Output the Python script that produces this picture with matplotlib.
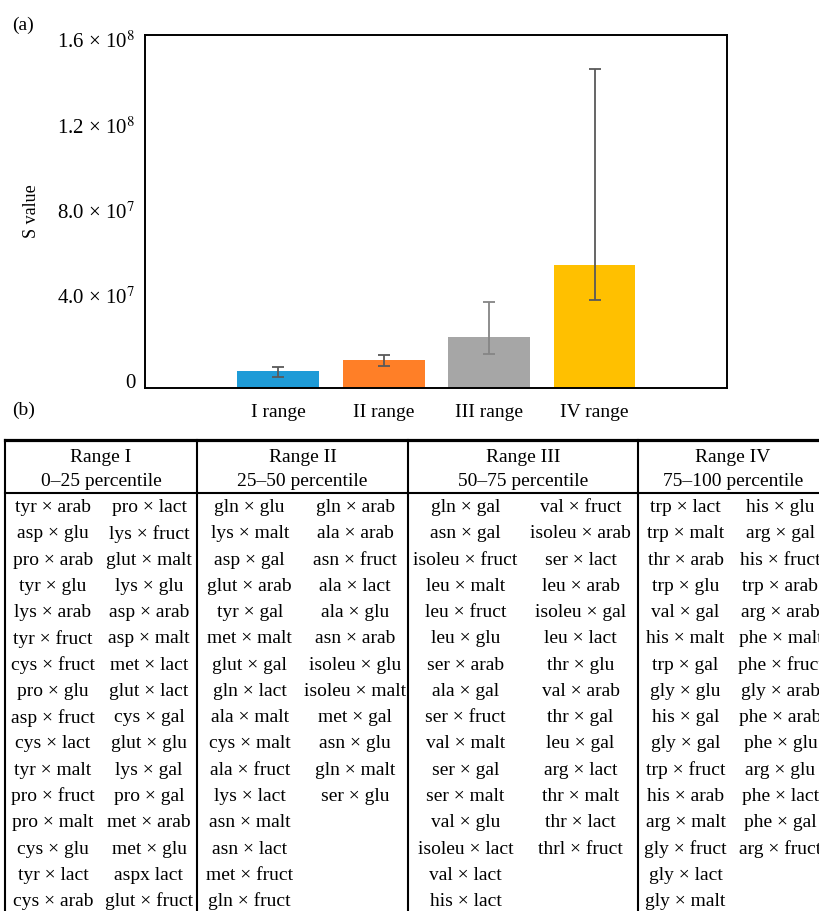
import numpy as np
import matplotlib
matplotlib.use('Agg')
import matplotlib.pyplot as plt
import matplotlib.transforms as mtransforms

plt.rcParams['font.family'] = ['Liberation Serif', 'DejaVu Serif']
plt.rcParams['mathtext.fontset'] = 'stix'

# Panel (a) data
ranges = ['I range', 'II range', 'III range', 'IV range']
s_value = [8.1e6, 1.31e7, 2.39e7, 5.79e7]
err_high = [1.01e7, 1.55e7, 4.03e7, 1.498e8]   # upper end of error bar
err_low = [5.3e6, 1.05e7, 1.60e7, 4.14e7]      # lower end of error bar
bar_colors = ['#1E9BD7', '#FF7F27', '#A6A6A6', '#FFC000']
err_colors = ['#595959', '#595959', '#858585', '#595959']
yticks = [0, 4e7, 8e7, 1.2e8, 1.6e8]
ytick_labels = ['0', '4.0 × 10$^{7}$', '8.0 × 10$^{7}$', '1.2 × 10$^{8}$', '1.6 × 10$^{8}$']

# Panel (b) table data
headers = [('Range I', '0–25 percentile'), ('Range II', '25–50 percentile'),
           ('Range III', '50–75 percentile'), ('Range IV', '75–100 percentile')]
range1_a = ['tyr × arab', 'asp × glu', 'pro × arab', 'tyr × glu', 'lys × arab', 'tyr × fruct',
            'cys × fruct', 'pro × glu', 'asp × fruct', 'cys × lact', 'tyr × malt', 'pro × fruct',
            'pro × malt', 'cys × glu', 'tyr × lact', 'cys × arab']
range1_b = ['pro × lact', 'lys × fruct', 'glut × malt', 'lys × glu', 'asp × arab', 'asp × malt',
            'met × lact', 'glut × lact', 'cys × gal', 'glut × glu', 'lys × gal', 'pro × gal',
            'met × arab', 'met × glu', 'aspx lact', 'glut × fruct']
range2_a = ['gln × glu', 'lys × malt', 'asp × gal', 'glut × arab', 'tyr × gal', 'met × malt',
            'glut × gal', 'gln × lact', 'ala × malt', 'cys × malt', 'ala × fruct', 'lys × lact',
            'asn × malt', 'asn × lact', 'met × fruct', 'gln × fruct']
range2_b = ['gln × arab', 'ala × arab', 'asn × fruct', 'ala × lact', 'ala × glu', 'asn × arab',
            'isoleu × glu', 'isoleu × malt', 'met × gal', 'asn × glu', 'gln × malt', 'ser × glu']
range3_a = ['gln × gal', 'asn × gal', 'isoleu × fruct', 'leu × malt', 'leu × fruct', 'leu × glu',
            'ser × arab', 'ala × gal', 'ser × fruct', 'val × malt', 'ser × gal', 'ser × malt',
            'val × glu', 'isoleu × lact', 'val × lact', 'his × lact']
range3_b = ['val × fruct', 'isoleu × arab', 'ser × lact', 'leu × arab', 'isoleu × gal', 'leu × lact',
            'thr × glu', 'val × arab', 'thr × gal', 'leu × gal', 'arg × lact', 'thr × malt',
            'thr × lact', 'thrl × fruct']
range4_a = ['trp × lact', 'trp × malt', 'thr × arab', 'trp × glu', 'val × gal', 'his × malt',
            'trp × gal', 'gly × glu', 'his × gal', 'gly × gal', 'trp × fruct', 'his × arab',
            'arg × malt', 'gly × fruct', 'gly × lact', 'gly × malt']
range4_b = ['his × glu', 'arg × gal', 'his × fruct', 'trp × arab', 'arg × arab', 'phe × malt',
            'phe × fruct', 'gly × arab', 'phe × arab', 'phe × glu', 'arg × glu', 'phe × lact',
            'phe × gal', 'arg × fruct']
columns = [(range1_a, range1_b), (range2_a, range2_b), (range3_a, range3_b), (range4_a, range4_b)]

W, H = 819, 911
fig = plt.figure(figsize=(W / 100, H / 100), dpi=100)

# ---- panel (a): bar chart ----
ax = fig.add_axes([145 / W, 1 - 388.3 / H, 582 / W, 353.3 / H])
x = np.arange(len(ranges))
ax.bar(x, s_value, width=0.777, color=bar_colors, zorder=2)
for i in range(len(ranges)):
    lo = s_value[i] - err_low[i]
    hi = err_high[i] - s_value[i]
    ax.errorbar(x[i], s_value[i], yerr=[[lo], [hi]], fmt='none', ecolor=err_colors[i],
                elinewidth=1.3, capsize=4, capthick=1.3, zorder=3)
ax.set_xlim(-1.261, 4.256)
ax.set_ylim(0, 1.656e8)
ax.set_xticks(x)
ax.set_xticklabels(ranges, fontsize=14)
ax.set_yticks(yticks)
ax.set_yticklabels(ytick_labels, fontsize=15)
ax.tick_params(axis='x', length=0, pad=11)
ax.tick_params(axis='y', length=0, pad=7)
offset = mtransforms.ScaledTranslation(0, 7 / 100, fig.dpi_scale_trans)
for lab in ax.get_yticklabels():
    lab.set_transform(lab.get_transform() + offset)
for sp in ax.spines.values():
    sp.set_linewidth(1.4)
    sp.set_color('black')
ax.set_ylabel('S value', fontsize=13)
ax.yaxis.set_label_coords(-0.180, 0.502)

# ---- overlay in pixel units for labels and table ----
ov = fig.add_axes([0, 0, 1, 1], zorder=-1)
ov.set_xlim(0, W)
ov.set_ylim(H, 0)
ov.axis('off')

ov.text(12, 25, '(a)', fontsize=14, va='center', ha='left')
ov.text(12, 410, '(b)', fontsize=14, va='center', ha='left')

# table is wider than the figure, so the last column runs off the right edge
col_edges = [5, 197, 408, 638, 828]
top_y, head_y = 440, 492.5
ov.plot([col_edges[0], W + 10], [top_y, top_y], color='black', lw=2.3, clip_on=False)
ov.plot([col_edges[0], W + 10], [head_y, head_y], color='black', lw=1.5, clip_on=False)
for xe in col_edges:
    ov.plot([xe, xe], [top_y, H + 10], color='black', lw=1.5, clip_on=False)

row0, pitch = 507.5, 26.27
for c, (head, (left_list, right_list)) in enumerate(zip(headers, columns)):
    x0, x1 = col_edges[c], col_edges[c + 1]
    xc = (x0 + x1) / 2
    ov.text(xc, 458, head[0], fontsize=14, ha='center', va='center', clip_on=False)
    ov.text(xc, 482, head[1], fontsize=14, ha='center', va='center', clip_on=False)
    xa = x0 + (x1 - x0) * 0.25
    xb = x0 + (x1 - x0) * 0.75
    for r, t in enumerate(left_list):
        ov.text(xa, row0 + r * pitch, t, fontsize=14, ha='center', va='center', clip_on=False)
    for r, t in enumerate(right_list):
        ov.text(xb, row0 + r * pitch, t, fontsize=14, ha='center', va='center', clip_on=False)

fig.savefig('out.png', dpi=100)
